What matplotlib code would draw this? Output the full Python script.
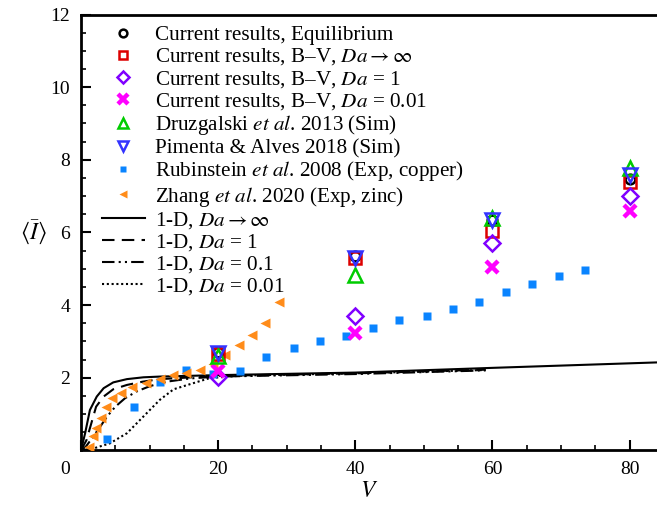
import matplotlib
matplotlib.use("Agg")
import matplotlib.pyplot as plt
from matplotlib.ticker import MultipleLocator

plt.rcParams['font.family'] = ['Liberation Serif', 'DejaVu Serif']
plt.rcParams['mathtext.fontset'] = 'stix'
plt.rcParams['font.size'] = 14

# current results at V = 20, 40, 60, 80
v_cur = [20, 40, 60, 80]
eq = [2.70, 5.35, 6.35, 7.47]
bv_inf = [2.65, 5.30, 6.05, 7.39]
bv_1 = [2.03, 3.71, 5.71, 7.01]
bv_001 = [2.17, 3.24, 5.05, 6.58]
druz = [2.60, 4.84, 6.40, 7.78]
pimenta = [2.68, 5.30, 6.35, 7.59]

# Rubinstein et al. 2008 (Exp, copper)
v_rub = [3.8, 7.7, 11.5, 15.3, 19.3, 23.2, 27.0, 31.0, 34.9, 38.7,
         42.6, 46.4, 50.4, 54.2, 58.1, 62.0, 65.8, 69.7, 73.5]
i_rub = [0.30, 1.18, 1.89, 2.20, 2.10, 2.17, 2.58, 2.83, 3.00, 3.15,
         3.36, 3.58, 3.70, 3.90, 4.07, 4.35, 4.57, 4.79, 4.97]

# Zhang et al. 2020 (Exp, zinc)
v_zh = [1.1, 1.8, 2.2, 2.9, 3.65, 4.5, 5.9, 7.5, 9.5, 11.5, 13.4, 15.3,
        17.3, 19.2, 21.0, 23.0, 24.9, 26.9, 28.9]
i_zh = [0.10, 0.39, 0.61, 0.88, 1.18, 1.43, 1.59, 1.75, 1.86, 1.96, 2.06, 2.13,
        2.21, 2.38, 2.63, 2.90, 3.17, 3.50, 4.07]

# 1-D model curves
v_inf = [0, 0.6, 1.3, 2.3, 3.3, 4.7, 6.7, 9.1, 11.5, 20, 40, 60, 84]
i_inf = [0, 0.47, 1.11, 1.48, 1.71, 1.87, 1.96, 2.01, 2.03, 2.07, 2.14, 2.27, 2.42]
v_da1 = [0, 0.8, 1.5, 2.2, 3.3, 4.7, 6.7, 9.0, 11.5, 20, 40, 59]
i_da1 = [0, 0.28, 0.74, 1.20, 1.48, 1.68, 1.80, 1.89, 1.96, 2.05, 2.12, 2.22]
v_da01 = [0, 0.7, 1.8, 2.8, 3.8, 5.0, 6.4, 8.1, 10.1, 12.5, 16, 20, 40, 59]
i_da01 = [0, 0.10, 0.38, 0.65, 0.93, 1.20, 1.43, 1.62, 1.77, 1.89, 1.98, 2.03, 2.10, 2.20]
v_da001 = [0, 1.8, 4.2, 6.7, 9.1, 11.5, 13.5, 16.4, 18.8, 23.7, 40, 59]
i_da001 = [0, 0.05, 0.19, 0.47, 0.93, 1.39, 1.68, 1.85, 1.99, 2.06, 2.12, 2.21]

fig = plt.figure(figsize=(6.57, 5.09), dpi=100)
ax = fig.add_axes([81/657, 1 - 450.3/509, 1 - 81/657, (450.3 - 14.5)/509])

ax.plot(v_cur, eq, 'o', ms=7, mfc='none', mec='black', mew=1.8,
        label='Current results, Equilibrium', zorder=5)
ax.plot(v_cur, bv_inf, 's', ms=8, mfc='none', mec='#dd0000', mew=1.8,
        label=r'Current results, B–V, $Da \rightarrow \infty$', zorder=5)
ax.plot(v_cur, bv_1, 'D', ms=8, mfc='none', mec='#8000ff', mew=1.8,
        label=r'Current results, B–V, $Da$ = 1', zorder=5)
ax.plot(v_cur, bv_001, 'x', ms=9, mec='#ff00ff', mew=3.2,
        label=r'Current results, B–V, $Da$ = 0.01', zorder=5)
ax.plot(v_cur, druz, '^', ms=9.5, mfc='none', mec='#00cc00', mew=1.8,
        label=r'Druzgalski $et\ al$. 2013 (Sim)', zorder=5)
ax.plot(v_cur, pimenta, 'v', ms=9.5, mfc='none', mec='#3333ff', mew=1.8,
        label='Pimenta & Alves 2018 (Sim)', zorder=5)
ax.plot(v_rub, i_rub, 's', ms=6, mfc='#0a84ff', mec='none',
        label=r'Rubinstein $et\ al$. 2008 (Exp, copper)', zorder=4)
ax.plot(v_zh, i_zh, '<', ms=7.5, mfc='#ff8c1a', mec='none',
        label=r'Zhang $et\ al$. 2020 (Exp, zinc)', zorder=4)

ax.plot(v_inf, i_inf, '-', color='black', lw=1.5,
        label=r'1-D, $Da \rightarrow \infty$')
ax.plot(v_da1, i_da1, color='black', lw=1.5, ls=(0, (6, 3.5)),
        label=r'1-D, $Da$ = 1')
ax.plot(v_da01, i_da01, color='black', lw=1.5, ls=(0, (6, 2, 1, 2, 1, 2)),
        label=r'1-D, $Da$ = 0.1')
ax.plot(v_da001, i_da001, color='black', lw=1.5, ls=(0, (1, 1.3)),
        label=r'1-D, $Da$ = 0.01')

ax.set_xlim(0, 84)
ax.set_ylim(0, 12)
ax.set_xticks([0, 20, 40, 60, 80])
ax.set_xticklabels(['', '20', '40', '60', '80'])
ax.set_yticks([0, 2, 4, 6, 8, 10, 12])
ax.set_yticklabels(['', '2', '4', '6', '8', '10', '12'])
ax.xaxis.set_minor_locator(MultipleLocator(5))
ax.yaxis.set_minor_locator(MultipleLocator(0.5))
ax.tick_params(which='major', direction='in', length=7, width=1.5, pad=8)
ax.tick_params(which='minor', direction='in', length=3.6, width=1.2)
ax.text(-0.028, -0.045, '0', transform=ax.transAxes, ha='center', va='center')

for s in ['left', 'bottom', 'top']:
    ax.spines[s].set_linewidth(2)
ax.spines['right'].set_visible(False)

ax.set_xlabel('$V$', fontsize=17, labelpad=2)
ax.set_ylabel(r'$\langle \bar{I} \rangle$', fontsize=17, rotation=0, labelpad=12, va='center')

ax.legend(loc='upper left', bbox_to_anchor=(0.036, 0.975), frameon=False,
          borderpad=0, borderaxespad=0, handlelength=2.05, handletextpad=0.47,
          labelspacing=0.06, fontsize=15.2, markerscale=0.8)

fig.savefig('out.png', dpi=100)
